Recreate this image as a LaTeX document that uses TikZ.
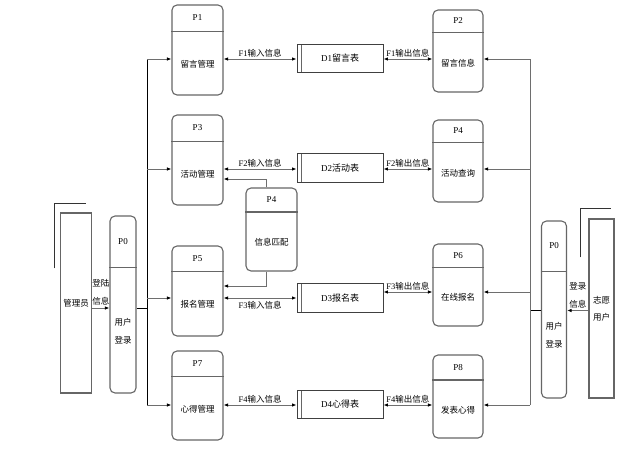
\documentclass[tikz,border=0pt]{standalone}
\usepackage{fontspec}
\setmainfont{Liberation Serif}
\newfontfamily\cjk{Noto Sans CJK SC}
\usepackage{tikz}
\usetikzlibrary{arrows.meta,calc}
\definecolor{boxc}{HTML}{666666}
\definecolor{linec}{HTML}{6E6E6E}

\begin{document}
\begin{tikzpicture}[x=1pt,y=-1pt,
  every node/.style={font=\fontsize{8.5}{11}\selectfont,align=center,inner sep=1pt},
  procbox/.style={rectangle,draw=boxc,line width=1.1pt,rounded corners=5pt},
  divider/.style={draw=boxc,line width=1.1pt},
  pid/.style={font=\fontsize{9}{11}\selectfont},
  ptext/.style={font=\cjk\fontsize{8.5}{18}\selectfont},
  store/.style={rectangle,draw=black!75,line width=0.9pt,minimum width=86pt,
               minimum height=28.5pt,font=\fontsize{9}{11}\selectfont,
               path picture={\draw[boxc,line width=1.1pt]
                 ([xshift=4.5pt]path picture bounding box.north west) --
                 ([xshift=4.5pt]path picture bounding box.south west);}},
  entity/.style={rectangle,draw=boxc,line width=1.1pt,font=\cjk\fontsize{8.5}{17}\selectfont},
  entshade/.style={draw=black!80,line width=0.8pt},
  arr/.style={-{Latex[length=4.5pt,width=3.5pt,color=black]},draw=linec,line width=1pt},
  biarr/.style={{Latex[length=4.5pt,width=3.5pt,color=black]}-{Latex[length=4.5pt,width=3.5pt,color=black]},
               draw=linec,line width=1pt},
  trunk/.style={draw=black,line width=0.7pt},
  flow/.style={font=\fontsize{8.5}{11}\selectfont,inner sep=1pt},
  login/.style={font=\cjk\fontsize{8.5}{18}\selectfont,inner sep=1pt},
]
\path[fill=white] (0,0) rectangle (643,453);

% processes: name/x/y/width/height/divider/id/text
\foreach \nm/\cx/\cy/\ww/\hh/\dd/\id/\txt in {
  p1/197.5/50/51/90/27/P1/留言管理,
  p3/197.5/160/51/90/27/P3/活动管理,
  p5/197.5/291/51/90/26/P5/报名管理,
  p7/197.5/395.5/51/89/26/P7/心得管理,
  p2/458/51/50/82/23/P2/留言信息,
  p4r/458/161/50/82/23/P4/活动查询,
  p6/458/285/50/82/24/P6/在线报名,
  p8/458/396.5/50/83/25.5/P8/发表心得,
  p4m/271.5/229.5/51/83/24.5/P4/信息匹配,
  p0l/123/304.5/26/177/52/P0/用户\\登录,
  p0r/554/309.5/25/177/51/P0/用户\\登录}{
  \node[procbox,minimum width=\ww pt,minimum height=\hh pt] (\nm) at (\cx,\cy) {};
  \draw[divider] ([yshift=-\dd pt]\nm.north west) -- ([yshift=-\dd pt]\nm.north east);
  \node[pid] (\nm-id) at ([yshift={-\dd/2*1pt}]\nm.north) {\id};
  \node[ptext] (\nm-txt) at ([yshift={(\hh-\dd)/2*1pt}]\nm.south) {\txt};
}

% data stores
\node[store] (d1) at (340,58.5) {D1\cjk 留言表};
\node[store] (d2) at (340,168) {D2\cjk 活动表};
\node[store] (d3) at (340,298) {D3\cjk 报名表};
\node[store] (d4) at (340,404.5) {D4\cjk 心得表};

% external entities
\node[entity,minimum width=31pt,minimum height=180pt] (admin) at (76,303) {管理员};
\node[entity,minimum width=25pt,minimum height=179pt] (vol) at (601.5,308.5) {志愿\\用户};
\draw[entshade] ([shift={(-6,56)}]admin.north west) |- ([shift={(-6,-9)}]admin.north east);
\draw[entshade] ([shift={(-8,39)}]vol.north west) |- ([shift={(-4,-10)}]vol.north east);

\coordinate (lt) at (147,308);
\coordinate (rt) at (530,310.5);
\coordinate (r1) at (0,59);
\coordinate (r2) at (0,169);
\coordinate (r3) at (0,298);
\coordinate (r3b) at (0,292);
\coordinate (r4) at (0,405);
\coordinate (m1) at (0,179);
\coordinate (m2) at (0,286);

% login
\draw[arr] (admin.east |- lt) -- node[login,above=1pt] {登陆\\信息} (p0l.west |- lt);
\draw[arr] (vol.west |- rt) -- node[login,above=1pt] {登录\\信息} (p0r.east |- rt);

% left trunk
\draw[trunk] (p0l.east |- lt) -- (lt);
\draw[trunk] (lt |- r1) -- (lt |- r4);
\foreach \row/\pn in {r1/p1,r2/p3,r3/p5,r4/p7}
  \draw[arr] (lt |- \row) -- (\pn.west |- \row);

% right trunk
\draw[trunk] (p0r.west |- rt) -- (rt);
\draw[trunk,draw=linec,line width=1pt] (rt |- r1) -- (rt |- r4);
\foreach \row/\pn in {r1/p2,r2/p4r,r3b/p6,r4/p8}
  \draw[arr] (rt |- \row) -- (\pn.east |- \row);

% flows to and from stores
\draw[biarr] (p1.east |- r1) -- node[flow,above] {F1\cjk 输入信息} (d1.west |- r1);
\draw[biarr] (d1.east |- r1) -- node[flow,above] {F1\cjk 输出信息} (p2.west |- r1);
\draw[biarr] (p3.east |- r2) -- node[flow,above] {F2\cjk 输入信息} (d2.west |- r2);
\draw[biarr] (d2.east |- r2) -- node[flow,above] {F2\cjk 输出信息} (p4r.west |- r2);
\draw[biarr] (p5.east |- r3) -- node[flow,below=2pt] {F3\cjk 输入信息} (d3.west |- r3);
\draw[biarr] (d3.east |- r3b) -- node[flow,above] {F3\cjk 输出信息} (p6.west |- r3b);
\draw[biarr] (p7.east |- r4) -- node[flow,above] {F4\cjk 输入信息} (d4.west |- r4);
\draw[biarr] (d4.east |- r4) -- node[flow,above] {F4\cjk 输出信息} (p8.west |- r4);

% matching
\draw[arr] ([xshift=-5pt]p4m.north) |- (p3.east |- m1);
\draw[arr] ([xshift=-5pt]p4m.south) |- (p5.east |- m2);
\end{tikzpicture}
\end{document}
